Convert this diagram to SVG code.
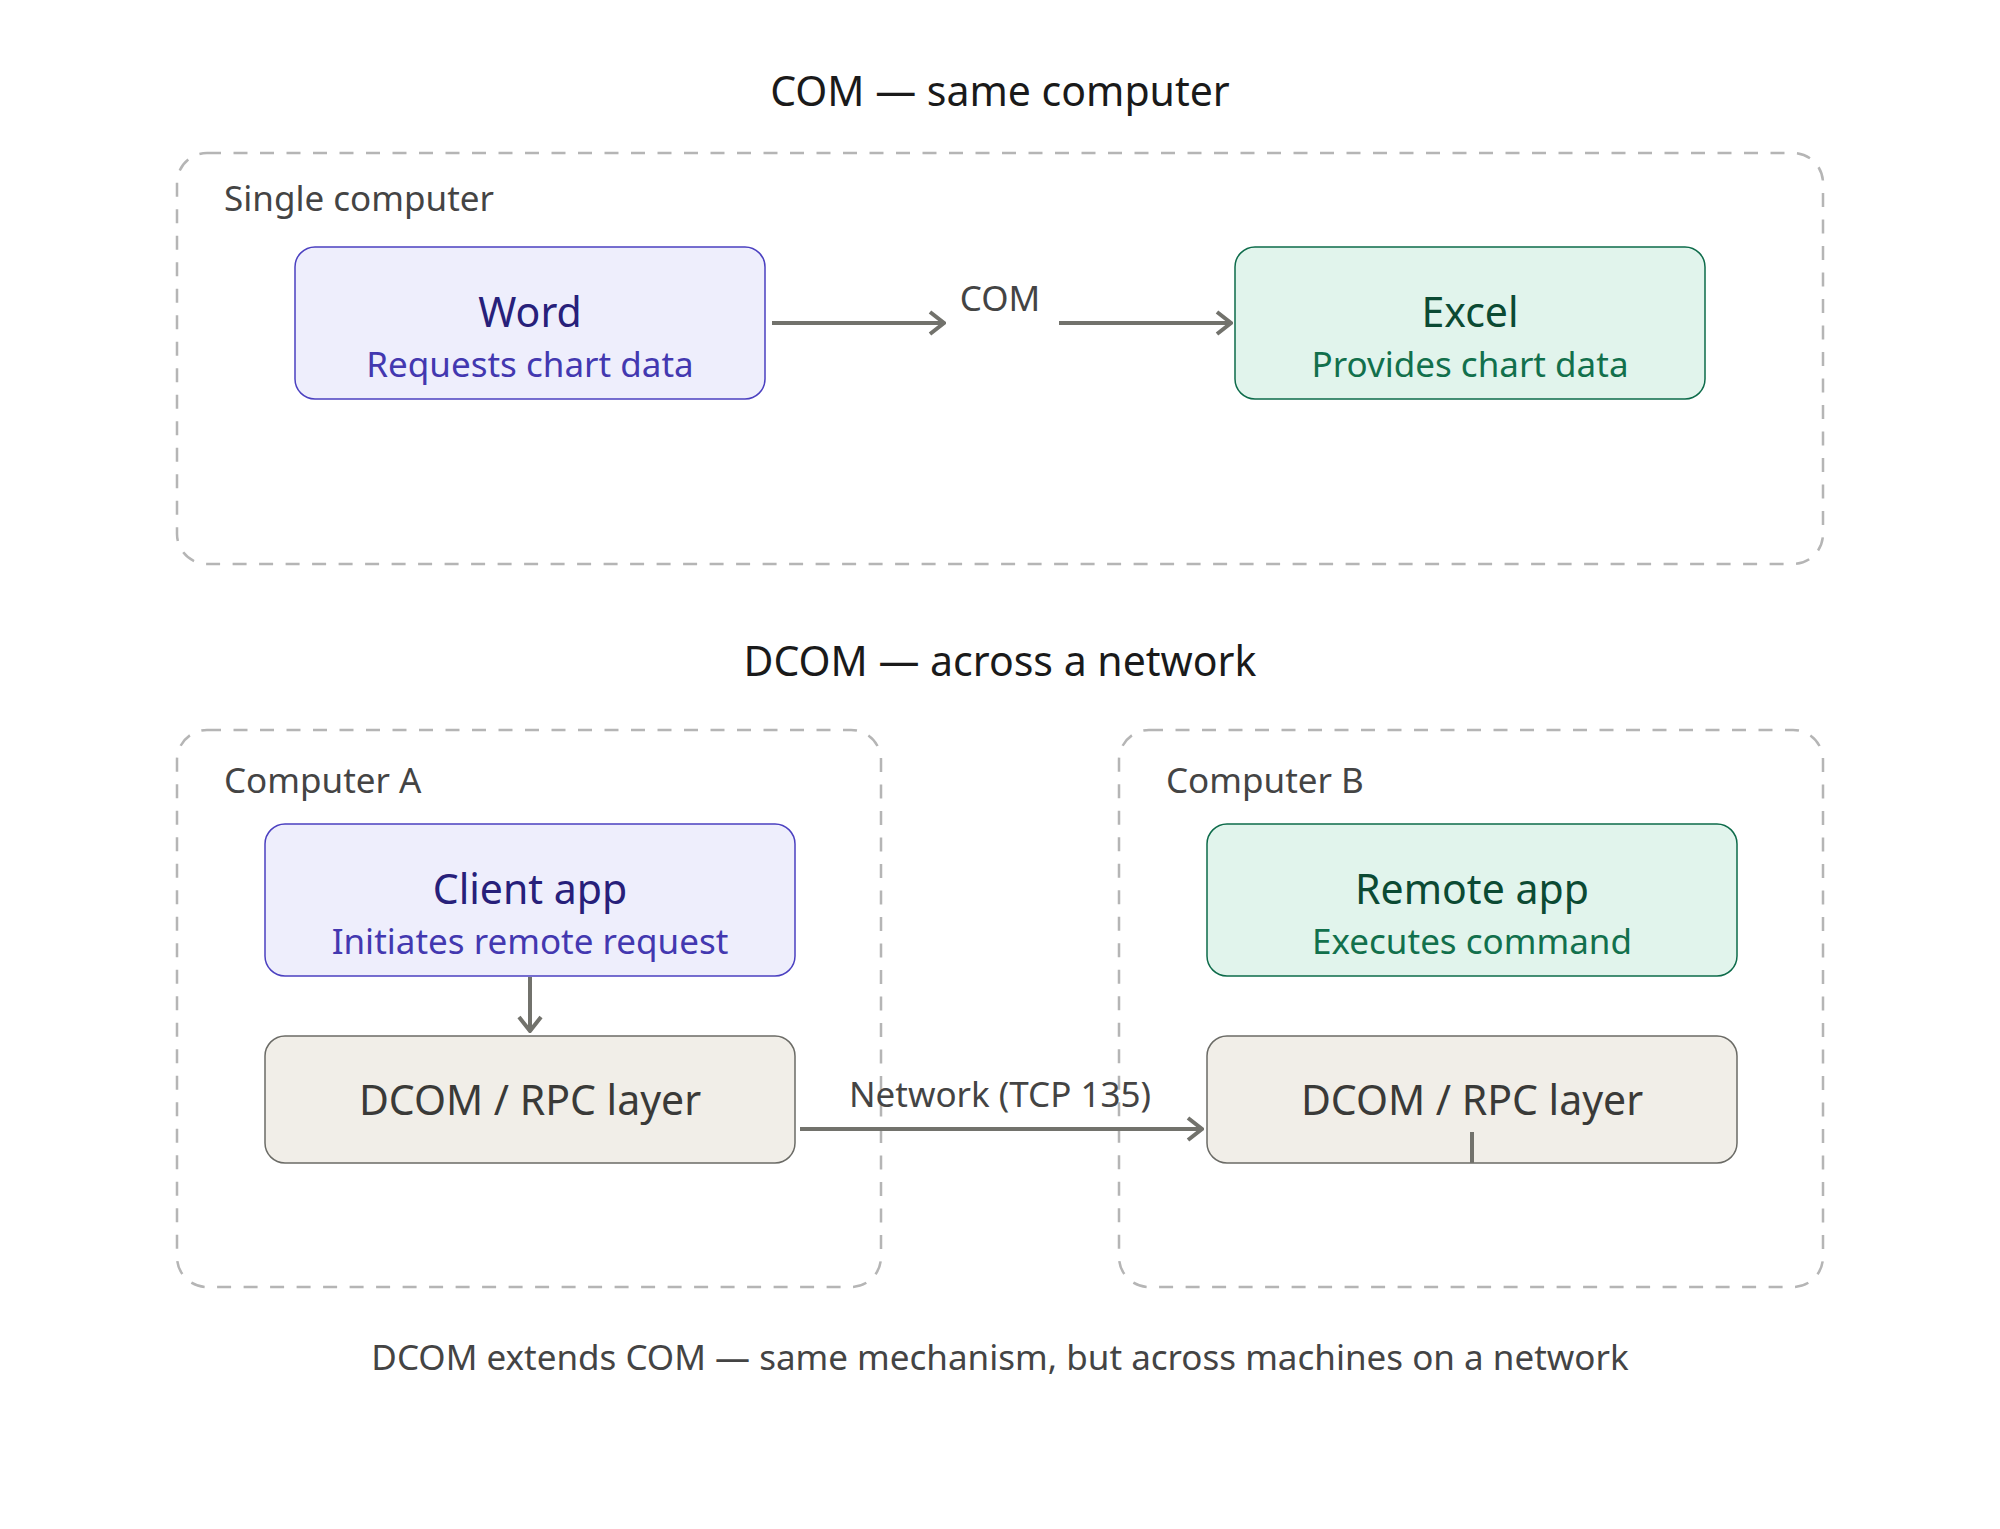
<svg xmlns="http://www.w3.org/2000/svg" width="2000" height="1529" viewBox="0 0 2000 1529">
<defs>
<style>
text{font-family:"Noto Sans","Open Sans","DejaVu Sans",sans-serif;text-anchor:middle}
.title{font-size:41px;fill:#1a1a1a}
.clabel{font-size:35px;fill:#444;text-anchor:start}
.container{fill:none;stroke:#b5b5b5;stroke-width:2.5;stroke-dasharray:14 12.5}
.blue rect{fill:#eeeefc;stroke:#4b40c0;stroke-width:1.5}
.blue .t{font-size:41px;fill:#27207a}
.blue .s{font-size:35px;fill:#4338b0}
.green rect{fill:#e1f4ec;stroke:#0d6b4a;stroke-width:1.5}
.green .t{font-size:41px;fill:#0b4a33}
.green .s{font-size:35px;fill:#12704c}
.layer rect{fill:#f1eee8;stroke:#6b6b66;stroke-width:1.5}
.layer .t{font-size:41px;fill:#3a3a38}
.edge{fill:none;stroke:#72726c;stroke-width:4}
.elabel{font-size:35px;fill:#444}
.foot{font-size:35px;fill:#444}
</style>
<marker id="arr" viewBox="0 0 20 26" refX="18" refY="13" markerWidth="20" markerHeight="26" markerUnits="userSpaceOnUse" orient="auto">
<path d="M4 2 L18 13 L4 24" fill="none" stroke="#72726c" stroke-width="4"/>
</marker>
</defs>
<rect width="2000" height="1529" fill="#ffffff"/>

<text class="title" x="1000" y="106">COM — same computer</text>
<g id="single-computer">
<rect class="container" x="177" y="153" width="1646" height="411" rx="30"/>
<text class="clabel" x="224" y="211">Single computer</text>
</g>
<g id="word" class="blue">
<rect x="295" y="247" width="470" height="152" rx="20"/>
<text class="t" x="530" y="327">Word</text>
<text class="s" x="530" y="377">Requests chart data</text>
</g>
<g id="excel" class="green">
<rect x="1235" y="247" width="470" height="152" rx="20"/>
<text class="t" x="1470" y="327">Excel</text>
<text class="s" x="1470" y="377">Provides chart data</text>
</g>

<text class="title" x="1000" y="676">DCOM — across a network</text>
<g id="computer-a">
<rect class="container" x="177" y="730" width="704" height="557" rx="30"/>
<text class="clabel" x="224" y="793">Computer A</text>
</g>
<g id="computer-b">
<rect class="container" x="1119" y="730" width="704" height="557" rx="30"/>
<text class="clabel" x="1166" y="793">Computer B</text>
</g>
<g id="client-app" class="blue">
<rect x="265" y="824" width="530" height="152" rx="20"/>
<text class="t" x="530" y="904">Client app</text>
<text class="s" x="530" y="954">Initiates remote request</text>
</g>
<g id="dcom-a" class="layer">
<rect x="265" y="1036" width="530" height="127" rx="20"/>
<text class="t" x="530" y="1115">DCOM / RPC layer</text>
</g>
<g id="remote-app" class="green">
<rect x="1207" y="824" width="530" height="152" rx="20"/>
<text class="t" x="1472" y="904">Remote app</text>
<text class="s" x="1472" y="954">Executes command</text>
</g>
<g id="dcom-b" class="layer">
<rect x="1207" y="1036" width="530" height="127" rx="20"/>
<text class="t" x="1472" y="1115">DCOM / RPC layer</text>
</g>

<g id="connectors">
<line class="edge" x1="772" y1="323" x2="944" y2="323" marker-end="url(#arr)"/>
<text class="elabel" x="1000" y="311">COM</text>
<line class="edge" x1="1059" y1="323" x2="1231" y2="323" marker-end="url(#arr)"/>
<line class="edge" x1="530" y1="977" x2="530" y2="1031" marker-end="url(#arr)"/>
<line class="edge" x1="800" y1="1129" x2="1202" y2="1129" marker-end="url(#arr)"/>
<text class="elabel" x="1000" y="1107">Network (TCP 135)</text>
<line class="edge" x1="1472" y1="1132" x2="1472" y2="1163"/>
</g>

<text class="foot" x="1000" y="1370">DCOM extends COM — same mechanism, but across machines on a network</text>
</svg>
